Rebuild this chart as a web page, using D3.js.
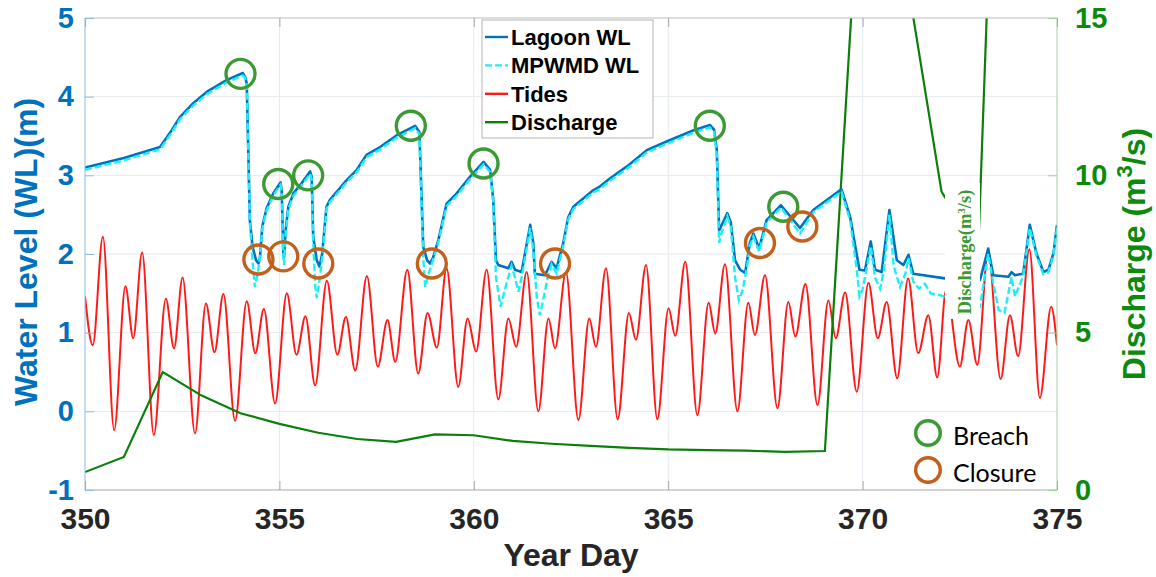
<!DOCTYPE html>
<html>
<head>
<meta charset="utf-8">
<script src="https://cdn.jsdelivr.net/npm/d3@7"></script>
<style>
  html, body { margin: 0; padding: 0; background: #fff; }
  svg { display: block; }
</style>
</head>
<body>
<svg id="chart" width="1156" height="577"></svg>
<script>
// ---------------- DATA ----------------
const xTicks = [350, 355, 360, 365, 370, 375];
const leftTicks = [-1, 0, 1, 2, 3, 4, 5];
const rightTicks = [0, 5, 10, 15];

const tideDay = [350.00,350.20,350.46,350.75,351.04,351.24,351.47,351.77,
  352.08,352.29,352.51,352.83,353.11,353.33,353.56,353.86,
  354.16,354.38,354.60,354.89,355.19,355.44,355.67,355.92,
  356.22,356.49,356.71,356.95,357.25,357.53,357.78,357.98,
  358.29,358.57,358.81,359.05,359.30,359.60,359.84,360.06,
  360.33,360.63,360.89,361.09,361.36,361.66,361.92,362.09,
  362.37,362.69,362.97,363.14,363.40,363.70,363.99,364.17,
  364.43,364.72,365.01,365.18,365.44,365.75,366.04,366.21,
  366.46,366.78,367.06,367.23,367.49,367.81,368.09,368.27,
  368.53,368.84,369.12,369.31,369.55,369.85,370.15,370.39,
  370.62,370.89,371.17,371.43,371.69,371.92,372.15,372.50,
  372.72,372.95,373.23,373.55,373.79,374.00,374.29,374.56,
  374.85,375.00];
const tideVal = [1.46,0.84,2.22,-0.24,1.59,0.93,2.02,-0.30,
  1.43,0.80,1.70,-0.28,1.37,0.75,1.49,-0.12,
  1.40,0.74,1.30,0.10,1.50,0.72,1.21,0.33,
  1.66,0.72,1.20,0.52,1.72,0.57,1.16,0.63,
  1.80,0.48,1.25,0.81,1.82,0.31,1.18,0.76,
  1.80,0.15,1.18,0.82,1.77,0.00,1.18,0.80,
  1.77,-0.11,1.18,0.82,1.82,-0.10,1.25,0.91,
  1.86,-0.10,1.31,0.96,1.90,-0.05,1.38,0.99,
  1.87,0.00,1.38,0.97,1.73,0.04,1.39,0.95,
  1.62,0.08,1.41,0.93,1.51,0.25,1.63,0.93,
  1.39,0.42,1.69,0.74,1.22,0.43,1.55,0.57,
  1.16,0.59,2.03,0.41,1.22,0.70,2.06,0.17,
  1.33,0.84];

const lagoonDay = [350.00,351.00,351.93,352.20,352.44,352.79,353.13,353.64,354.06,354.12,354.16,354.24,354.31,354.40,354.46,354.50,354.56,354.67,354.84,355.03,355.06,355.10,355.12,355.16,355.23,355.36,355.57,355.79,355.83,355.87,355.96,356.03,356.10,356.21,356.30,356.73,356.99,357.24,357.59,358.02,358.30,358.49,358.60,358.70,358.80,358.87,358.95,359.09,359.30,359.56,359.90,360.25,360.42,360.50,360.57,360.63,360.89,360.97,361.06,361.23,361.45,361.53,361.57,361.83,362.00,362.13,362.30,362.43,362.56,363.07,363.25,363.50,363.93,364.45,364.96,365.64,366.07,366.18,366.25,366.31,366.36,366.52,366.61,366.72,366.85,366.98,367.10,367.19,367.34,367.53,367.90,368.39,368.73,369.42,369.46,369.68,369.85,369.92,370.06,370.21,370.32,370.49,370.69,370.88,371.05,371.18,371.30,372.12,373.02,373.23,373.36,373.75,373.83,373.92,374.13,374.30,374.47,374.65,374.78,374.91,375.00];
const lagoonWL = [3.10,3.22,3.36,3.55,3.74,3.92,4.06,4.21,4.30,4.25,4.17,2.43,2.09,1.92,1.88,1.95,2.35,2.58,2.77,2.91,2.80,2.01,1.96,2.30,2.60,2.77,2.90,3.05,2.98,2.22,1.92,1.84,2.00,2.60,2.69,2.94,3.07,3.26,3.36,3.51,3.58,3.63,3.55,2.09,1.92,1.88,1.95,2.18,2.64,2.77,2.98,3.17,3.07,2.69,1.92,1.86,1.82,1.90,1.80,1.77,2.37,2.14,1.75,1.73,1.90,1.82,2.14,2.47,2.60,2.81,2.86,2.96,3.11,3.32,3.43,3.57,3.64,3.58,3.32,2.30,2.35,2.52,2.40,1.92,1.80,1.76,2.14,2.26,2.07,2.43,2.62,2.33,2.56,2.81,2.82,2.47,1.99,1.80,1.79,2.16,1.80,1.77,2.56,1.92,1.86,1.99,1.75,1.69,1.67,2.07,1.73,1.71,1.77,1.73,1.75,2.37,2.01,1.77,1.80,2.01,2.37];

const mpwmdDay = [350.00,351.00,351.93,352.20,352.44,352.79,353.13,353.64,354.06,354.12,354.16,354.24,354.31,354.37,354.44,354.50,354.56,354.67,354.84,355.03,355.06,355.10,355.12,355.16,355.23,355.36,355.57,355.79,355.83,355.87,355.92,355.96,356.02,356.10,356.21,356.30,356.73,356.99,357.24,357.59,358.02,358.30,358.49,358.60,358.70,358.75,358.82,358.95,359.09,359.30,359.56,359.90,360.25,360.42,360.50,360.57,360.69,360.80,360.97,361.06,361.15,361.25,361.45,361.53,361.62,361.70,361.80,361.90,362.00,362.13,362.30,362.43,362.56,363.07,363.25,363.50,363.93,364.45,364.96,365.64,366.07,366.18,366.25,366.31,366.36,366.52,366.61,366.72,366.82,366.92,367.03,367.10,367.19,367.34,367.53,367.90,368.39,368.73,369.42,369.46,369.68,369.85,369.92,370.00,370.10,370.21,370.32,370.45,370.55,370.69,370.80,370.96,371.10,371.18,371.30,371.45,371.60,371.75,372.12,373.02,373.23,373.36,373.50,373.65,373.83,373.92,374.05,374.13,374.30,374.47,374.65,374.78,374.91,375.00];
const mpwmdWL = [3.07,3.19,3.33,3.52,3.71,3.89,4.03,4.18,4.27,4.24,4.15,2.40,1.90,1.58,1.75,1.95,2.32,2.55,2.74,2.88,2.78,1.95,1.86,2.25,2.57,2.74,2.87,3.02,2.95,2.15,1.60,1.44,1.62,1.95,2.57,2.66,2.91,3.04,3.23,3.33,3.48,3.55,3.60,3.52,1.95,1.58,1.72,1.92,2.15,2.61,2.74,2.95,3.14,3.04,2.66,1.70,1.33,1.55,1.85,1.70,1.52,1.75,2.33,2.05,1.45,1.22,1.45,1.70,1.87,1.75,2.10,2.44,2.57,2.78,2.83,2.93,3.08,3.29,3.40,3.54,3.61,3.55,3.25,2.14,2.25,2.48,2.35,1.70,1.41,1.55,1.85,2.10,2.22,2.03,2.40,2.59,2.26,2.53,2.78,2.79,2.42,1.80,1.46,1.55,1.80,2.10,1.70,1.56,1.80,2.50,1.85,1.58,1.75,1.95,1.65,1.56,1.62,1.50,1.46,1.33,2.00,1.63,1.29,1.25,1.71,1.46,1.62,1.72,2.33,1.98,1.74,1.77,1.98,2.33];

const dischDay = [350,351,352,353,354,355,356,357,358,359,360,361,362,363,364,365,366,367,368,369.03,370.14,372.03,372.12,372.6,372.98,373.6];
const dischVal = [0.57,1.05,3.75,3.00,2.44,2.10,1.82,1.62,1.53,1.77,1.74,1.56,1.47,1.40,1.34,1.29,1.27,1.25,1.21,1.24,23.9,9.48,9.30,8.5,7.8,29];

const breachDay = [354.0,354.97,355.74,358.38,360.25,366.07,367.96];
const breachVal = [4.29,2.89,3.00,3.63,3.15,3.63,2.60];
const closureDay = [354.46,355.10,356.0,358.92,362.09,367.36,368.45];
const closureVal = [1.93,1.97,1.88,1.88,1.88,2.14,2.35];

const seriesNames = ["Lagoon WL", "MPWMD WL", "Tides", "Discharge"];
const markerNames = ["Breach", "Closure"];

// ---------------- STYLE ----------------
const C = {
  blue: "#0072BD", cyan: "#1BF0F8", red: "#FF1A1A", green: "#0A7F0A",
  axisGreen: "#0B8A0B", breach: "#3C9A34", closure: "#C2601C",
  grid: "#E4EAF0", dark: "#262626"
};
const L = 85, R = 1057, T = 18, B = 490;
const bold = "'Liberation Sans', Arial, Helvetica, sans-serif";
const plain = d => String(d);

const svg = d3.select("#chart");
const x = d3.scaleLinear().domain([350, 375]).range([L, R]);
const yL = d3.scaleLinear().domain([-1, 5]).range([B, T]);
const yR = d3.scaleLinear().domain([0, 15]).range([B, T]);

svg.append("defs").append("clipPath").attr("id", "clip")
  .append("rect").attr("x", L).attr("y", T).attr("width", R - L).attr("height", B - T);

// grid
const grid = svg.append("g");
grid.selectAll(".gx").data(xTicks.slice(1, -1)).join("line")
  .attr("x1", d => x(d)).attr("x2", d => x(d)).attr("y1", T).attr("y2", B)
  .attr("stroke", C.grid).attr("stroke-width", 1);
grid.selectAll(".gy").data(leftTicks.slice(1, -1)).join("line")
  .attr("x1", L).attr("x2", R).attr("y1", d => yL(d)).attr("y2", d => yL(d))
  .attr("stroke", C.grid).attr("stroke-width", 1);

// series
const plot = svg.append("g").attr("clip-path", "url(#clip)");
const tideLine = d3.line().x((d, i) => x(tideDay[i])).y(d => yL(d)).curve(d3.curveMonotoneX);
plot.append("path").datum(tideVal).attr("d", tideLine)
  .attr("fill", "none").attr("stroke", C.red).attr("stroke-width", 2);

const dLine = d3.line().x((d, i) => x(dischDay[i])).y(d => yR(d));
plot.append("path").datum(dischVal).attr("d", dLine)
  .attr("fill", "none").attr("stroke", C.green).attr("stroke-width", 2.2);

const lagLine = d3.line().x((d, i) => x(lagoonDay[i])).y(d => yL(d));
plot.append("path").datum(lagoonWL).attr("d", lagLine)
  .attr("fill", "none").attr("stroke", C.blue).attr("stroke-width", 2.6).attr("stroke-linejoin", "round");
const mpLine = d3.line().x((d, i) => x(mpwmdDay[i])).y(d => yL(d));
plot.append("path").datum(mpwmdWL).attr("d", mpLine)
  .attr("fill", "none").attr("stroke", C.cyan).attr("stroke-width", 2.4)
  .attr("stroke-dasharray", "7,3");

// markers
plot.selectAll(".br").data(breachDay).join("circle")
  .attr("cx", d => x(d)).attr("cy", (d, i) => yL(breachVal[i])).attr("r", 14.5)
  .attr("fill", "none").attr("stroke", C.breach).attr("stroke-width", 3.4);
plot.selectAll(".cl").data(closureDay).join("circle")
  .attr("cx", d => x(d)).attr("cy", (d, i) => yL(closureVal[i])).attr("r", 14.5)
  .attr("fill", "none").attr("stroke", C.closure).attr("stroke-width", 3.4);

// annotation box with rotated label
svg.append("rect").attr("x", 945).attr("y", 183).attr("width", 35).attr("height", 136).attr("fill", "#fff");
const ann = svg.append("text").attr("transform", "translate(971,252) rotate(-90)")
  .attr("text-anchor", "middle").attr("fill", "#3A9A32")
  .style("font-family", "'Liberation Serif', 'Times New Roman', serif")
  .style("font-weight", "bold").style("font-size", "18.5px");
ann.append("tspan").text("Discharge(m");
ann.append("tspan").attr("dy", -6).style("font-size", "11px").text("3");
ann.append("tspan").attr("dy", 6).text("/s)");

// axes frame
svg.append("line").attr("x1", L).attr("x2", R).attr("y1", T).attr("y2", T).attr("stroke", "#BDBDBD");
svg.append("line").attr("x1", L).attr("x2", R).attr("y1", B).attr("y2", B).attr("stroke", "#A8A8A8");
svg.append("line").attr("x1", L).attr("x2", L).attr("y1", T).attr("y2", B).attr("stroke", "#8DBBE0");
svg.append("line").attr("x1", R).attr("x2", R).attr("y1", T).attr("y2", B).attr("stroke", "#9FD09F");

// x axis (bottom, ticks inward)
const xAxis = d3.axisBottom(x).tickValues(xTicks).tickSize(-9).tickPadding(0).tickFormat(plain);
const gx = svg.append("g").attr("transform", `translate(0,${B})`).call(xAxis);
gx.select(".domain").remove();
gx.selectAll(".tick line").attr("stroke", "#A8A8A8");
gx.selectAll(".tick text").attr("y", 39).attr("dy", 0).attr("fill", C.dark)
  .style("font-family", bold).style("font-weight", "bold").style("font-size", "30px");
// top ticks
const xTop = d3.axisTop(x).tickValues(xTicks).tickSize(-9).tickFormat("");
const gxt = svg.append("g").attr("transform", `translate(0,${T})`).call(xTop);
gxt.select(".domain").remove();
gxt.selectAll(".tick line").attr("stroke", "#A8A8A8");

// left axis
const yAxisL = d3.axisLeft(yL).tickValues(leftTicks).tickSize(-9).tickPadding(11).tickFormat(plain);
const gyl = svg.append("g").attr("transform", `translate(${L},0)`).call(yAxisL);
gyl.select(".domain").remove();
gyl.selectAll(".tick line").attr("stroke", "#8DBBE0");
gyl.selectAll(".tick text").attr("fill", C.blue)
  .style("font-family", bold).style("font-weight", "bold").style("font-size", "29px");

// right axis
const yAxisR = d3.axisRight(yR).tickValues(rightTicks).tickSize(-9).tickPadding(18).tickFormat(plain);
const gyr = svg.append("g").attr("transform", `translate(${R},0)`).call(yAxisR);
gyr.select(".domain").remove();
gyr.selectAll(".tick line").attr("stroke", "#9FD09F");
gyr.selectAll(".tick text").attr("fill", C.axisGreen)
  .style("font-family", bold).style("font-weight", "bold").style("font-size", "29px");

// axis titles
svg.append("text").attr("x", 571).attr("y", 566).attr("text-anchor", "middle").attr("fill", C.dark)
  .style("font-family", bold).style("font-weight", "bold").style("font-size", "32px").text("Year Day");
svg.append("text").attr("transform", "translate(37,252) rotate(-90)").attr("text-anchor", "middle")
  .attr("fill", C.blue).style("font-family", bold).style("font-weight", "bold").style("font-size", "32px")
  .text("Water Level (WL)(m)");
const rt = svg.append("text").attr("transform", "translate(1145,254) rotate(-90)").attr("text-anchor", "middle")
  .attr("fill", C.axisGreen).style("font-family", bold).style("font-weight", "bold").style("font-size", "32px");
rt.append("tspan").text("Discharge (m");
rt.append("tspan").attr("dy", -13).style("font-size", "22px").text("3");
rt.append("tspan").attr("dy", 13).text("/s)");

// legend
const lg = svg.append("g");
lg.append("rect").attr("x", 482).attr("y", 20).attr("width", 171).attr("height", 118)
  .attr("fill", "#fff").attr("stroke", "#B4B4B4").attr("stroke-width", 1);
const lgStyles = [
  {c: C.blue, dash: null}, {c: C.cyan, dash: "7,3"}, {c: C.red, dash: null}, {c: C.green, dash: null}
];
seriesNames.forEach((name, i) => {
  const yy = 37 + i * 28.4;
  lg.append("line").attr("x1", 485).attr("x2", 508).attr("y1", yy).attr("y2", yy)
    .attr("stroke", lgStyles[i].c).attr("stroke-width", 2.4)
    .attr("stroke-dasharray", lgStyles[i].dash);
  lg.append("text").attr("x", 511).attr("y", yy + 8).attr("fill", "#000")
    .style("font-family", bold).style("font-weight", "bold").style("font-size", "22px").text(name);
});

// marker legend
const mk = svg.append("g");
[C.breach, C.closure].forEach((col, i) => {
  const yy = 433 + i * 37;
  mk.append("circle").attr("cx", 928).attr("cy", yy).attr("r", 12.3)
    .attr("fill", "none").attr("stroke", col).attr("stroke-width", 3.4);
  mk.append("text").attr("x", 953).attr("y", yy + 12).attr("fill", "#000")
    .style("font-family", "Lato, 'Open Sans', sans-serif").style("font-size", "25px").text(markerNames[i]);
});
</script>
</body>
</html>
